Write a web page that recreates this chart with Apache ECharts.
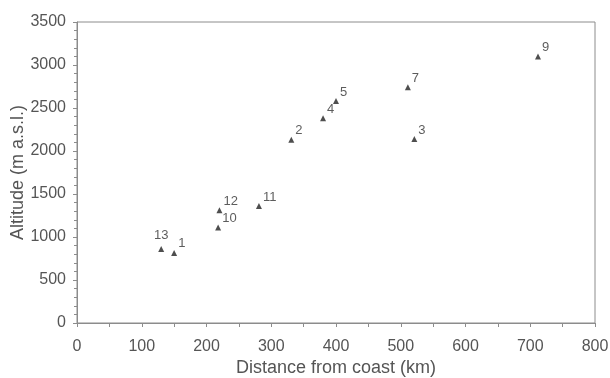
<!DOCTYPE html>
<html>
<head>
<meta charset="utf-8">
<script src="https://cdn.jsdelivr.net/npm/echarts@6/dist/echarts.min.js"></script>
<style>
  html, body { margin: 0; padding: 0; background: #fff; }
  #chart { width: 610px; height: 378px; }
</style>
</head>
<body>
<div id="chart"></div>
<script>
// site numbers, distance from coast (km), altitude (m a.s.l.)
const sites = ["13", "1", "12", "10", "11", "2", "4", "5", "3", "7", "9"];
const distance = [130, 150, 220, 218, 281, 331, 380, 400, 521, 511, 712];
const altitude = [860, 815, 1310, 1110, 1360, 2130, 2380, 2580, 2140, 2740, 3100];

const chart = echarts.init(document.getElementById("chart"));
const font = "Liberation Sans, Arial, sans-serif";
const grey = "#8c8c8c";

const axisBase = {
  axisLine: { show: true, onZero: false, lineStyle: { color: grey, width: 1 } },
  axisTick: { show: true, inside: false, length: 4, lineStyle: { color: grey } },
  minorTick: { show: true, length: 3, lineStyle: { color: grey } },
  splitLine: { show: false },
  axisLabel: { color: "#555", fontSize: 16, fontFamily: font, formatter: (v) => String(v) },
  nameTextStyle: { color: "#555", fontSize: 18, fontFamily: font },
  nameMoveOverlap: false,
};

chart.setOption({
  animation: false,
  grid: {
    left: 77, right: 15, top: 22, bottom: 55,
    outerBoundsMode: "none", containLabel: false,
    show: true, borderColor: grey, borderWidth: 1,
  },
  xAxis: {
    ...axisBase,
    type: "value",
    min: 0,
    max: 800,
    interval: 100,
    minorTick: { ...axisBase.minorTick, splitNumber: 2, length: 4 },
    axisLabel: { ...axisBase.axisLabel, margin: 16 },
    name: "Distance from coast (km)",
    nameLocation: "middle",
    nameGap: 36,
  },
  yAxis: {
    ...axisBase,
    type: "value",
    min: 0,
    max: 3500,
    interval: 500,
    minorTick: { ...axisBase.minorTick, splitNumber: 5 },
    axisLabel: { ...axisBase.axisLabel, margin: 11 },
    name: "Altitude (m a.s.l.)",
    nameLocation: "middle",
    nameGap: 50,
  },
  series: [
    {
      type: "scatter",
      symbol: "triangle",
      symbolSize: 6,
      itemStyle: { color: "#222" },
      data: distance.map((d, i) => ({
        value: [d, altitude[i]],
        name: sites[i],
        label: sites[i] === "13" ? { position: "top", offset: [0, -2] } : undefined,
      })),
      label: {
        show: true,
        formatter: (p) => p.name,
        position: "right",
        offset: [-1, -9],
        distance: 2,
        color: "#333",
        fontSize: 13,
        fontFamily: font,
      },
    },
  ],
});
</script>
</body>
</html>
